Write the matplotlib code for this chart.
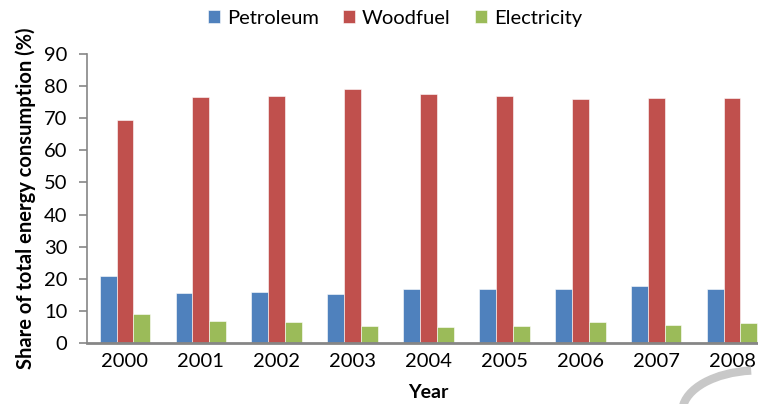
import matplotlib
matplotlib.use('Agg')
import matplotlib.pyplot as plt
from matplotlib.patches import Arc
import numpy as np

plt.rcParams['font.family'] = ['Lato', 'DejaVu Sans']

years = ['2000', '2001', '2002', '2003', '2004', '2005', '2006', '2007', '2008']
petroleum = [21.0, 15.6, 15.9, 15.2, 16.9, 16.9, 17.0, 17.7, 16.9]
woodfuel = [69.4, 76.7, 77.0, 79.0, 77.6, 77.0, 75.9, 76.2, 76.2]
electricity = [9.0, 7.1, 6.6, 5.3, 5.0, 5.4, 6.5, 5.6, 6.2]

series = [('Petroleum', petroleum, '#4F81BD'),
          ('Woodfuel', woodfuel, '#C0504D'),
          ('Electricity', electricity, '#9BBB59')]

fig = plt.figure(figsize=(7.58, 4.04), dpi=100)
ax = fig.add_axes([0.1148, 0.150, 0.901, 0.717])

x = np.arange(len(years))
w = 0.222
for i, (name, vals, col) in enumerate(series):
    ax.bar(x + (i - 1) * w, vals, w, color=col, edgecolor='#ffffff', linewidth=0.4,
           label=name, zorder=2)

ax.set_xlim(-0.5, 8.5)
ax.set_ylim(0, 90)
ax.set_yticks(range(0, 91, 10))
ax.set_xticks(x)
ax.set_xticklabels(years)

for s in ['top', 'right']:
    ax.spines[s].set_visible(False)
ax.spines['left'].set_color('#868686')
ax.spines['bottom'].set_color('#868686')
ax.spines['bottom'].set_linewidth(2)
ax.spines['left'].set_linewidth(1.2)
ax.tick_params(axis='y', direction='out', length=6, color='#868686', width=1.2,
               labelsize=14.5, pad=8)
ax.tick_params(axis='x', length=0, labelsize=14.5, pad=7)

ax.set_ylabel('Share of total energy consumption (%)', fontsize=14.5, fontweight='bold',
              labelpad=6)
ax.set_xlabel('Year', fontsize=14, fontweight='bold', labelpad=10)

fig.legend(loc='center', bbox_to_anchor=(0.521, 0.955), ncol=3, frameon=False,
           fontsize=14.5, handlelength=0.6, handleheight=0.6, handletextpad=0.35,
           columnspacing=1.2)

# decorative grey arc in the lower right corner
arc = Arc((1.0, -0.02), 0.2, 0.2 * 758 / 404 * 0.55, theta1=95, theta2=175,
          transform=fig.transFigure, color='#c8c8c8', linewidth=6)
fig.patches.append(arc)

fig.savefig('out.png', dpi=100)
